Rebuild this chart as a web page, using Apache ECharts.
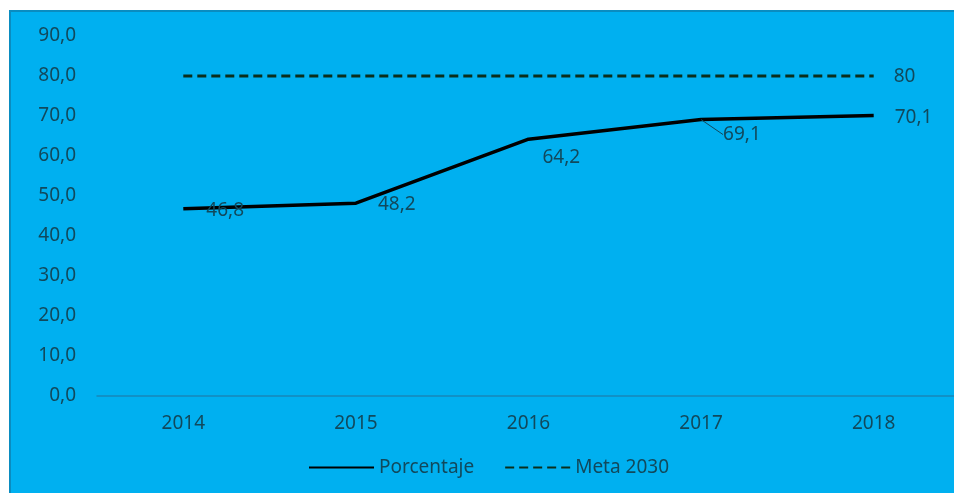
<!DOCTYPE html>
<html>
<head>
<meta charset="utf-8">
<script src="https://cdn.jsdelivr.net/npm/echarts@6/dist/echarts.min.js"></script>
<style>
html,body{margin:0;padding:0;background:#fff;overflow:hidden;}
#c{width:966px;height:493px;}
</style>
</head>
<body>
<div id="c"></div>
<script>
const years = ['2014', '2015', '2016', '2017', '2018'];
const porcentaje = [46.8, 48.2, 64.2, 69.1, 70.1];
const meta2030 = [80, 80, 80, 80, 80];
const yTicks = { min: 0, max: 90, interval: 10 };

const TXT = '#11495c';
const FONT = 'Noto Sans';
const fmt = v => v.toFixed(1).replace('.', ',');

// label shifts per point (style only)
const pShift = [
  { dx: 18, dy: 2 },
  { dx: 17, dy: 1 },
  { dx: 9, dy: 18 },
  { dx: 17, dy: 15 },
  { dx: 16, dy: 2 }
];

const pData = porcentaje.map((v, i) => ({
  value: v,
  labelLine: { show: i === 3, length2: 8, lineStyle: { color: TXT, width: 1 } }
}));
const mData = meta2030.map((v, i) => ({
  value: v,
  label: i === meta2030.length - 1
    ? { show: true, position: 'right', distance: 20, offset: [0, 1], formatter: p => String(p.value) }
    : { show: false }
}));

const chart = echarts.init(document.getElementById('c'), null, { renderer: 'canvas' });
chart.setOption({
  animation: false,
  backgroundColor: '#ffffff',
  textStyle: { fontFamily: FONT },
  graphic: [{
    type: 'rect', z: -10, silent: true,
    shape: { x: 10, y: 11, width: 980, height: 500 },
    style: { fill: '#00B0F0', stroke: '#0a8cc0', lineWidth: 2 }
  }],
  grid: { left: 97, right: 6, top: 36, bottom: 97, containLabel: false },
  legend: {
    left: 303, top: 453,
    itemWidth: 65, itemHeight: 14, itemGap: 30,
    itemStyle: { opacity: 0 },
    textStyle: { color: TXT, fontSize: 19, fontFamily: FONT },
    data: ['Porcentaje', 'Meta 2030']
  },
  xAxis: {
    type: 'category', data: years, boundaryGap: true,
    axisLine: { lineStyle: { color: '#1787b8', width: 1.5 } },
    axisTick: { show: false },
    axisLabel: { color: TXT, fontSize: 19, fontFamily: FONT, margin: 18 },
    splitLine: { show: false }
  },
  yAxis: {
    type: 'value', min: yTicks.min, max: yTicks.max, interval: yTicks.interval,
    axisLine: { show: false }, axisTick: { show: false },
    splitLine: { show: false },
    axisLabel: { color: TXT, fontSize: 19, fontFamily: FONT, margin: 21, formatter: v => fmt(v) }
  },
  series: [
    {
      name: 'Porcentaje', type: 'line', data: pData,
      symbol: 'circle', symbolSize: 0, showSymbol: true, itemStyle: { color: '#000' },
      lineStyle: { color: '#000', width: 3.5 },
      label: { show: true, position: 'right', distance: 5, color: TXT, fontSize: 19, fontFamily: FONT, formatter: p => fmt(p.value) },
      labelLayout: p => pShift[p.dataIndex],
      z: 3
    },
    {
      name: 'Meta 2030', type: 'line', data: mData,
      symbol: 'circle', symbolSize: 0, showSymbol: true, itemStyle: { color: '#0b2e1c' },
      lineStyle: { color: '#0b2e1c', width: 3, type: [9, 5] },
      label: { color: TXT, fontSize: 19, fontFamily: FONT },
      z: 2
    }
  ]
});
</script>
</body>
</html>
